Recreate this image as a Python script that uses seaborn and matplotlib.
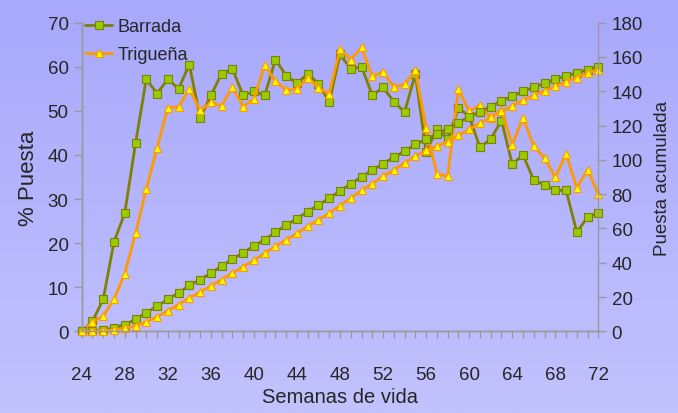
import numpy as np
import pandas as pd
import seaborn as sns
import matplotlib.pyplot as plt
from matplotlib.ticker import MultipleLocator

# semanas de vida
semanas = list(range(24, 73))

# % puesta semanal
barrada_pct = [0, 2.3, 7.3, 20.3, 26.8, 42.6, 57.2, 53.9, 57.2, 55.0,
               60.5, 48.4, 53.5, 58.4, 59.5, 53.5, 54.4, 53.5, 61.6, 58.0,
               56.2, 58.4, 56.1, 52.0, 62.8, 59.5, 60.0, 53.5, 55.3, 52.1,
               49.7, 58.4, 40.6, 45.9, 43.6, 50.6, 48.8, 41.7, 43.6, 47.8,
               37.9, 40.0, 34.3, 33.2, 32.0, 32.0, 22.5, 25.9, 26.8]
triguena_pct = [0, 2.1, 3.5, 7.3, 13.1, 22.2, 32.3, 41.6, 50.7, 50.9,
                55.0, 50.1, 51.9, 51.2, 55.4, 50.9, 52.7, 60.3, 56.7, 54.7,
                55.0, 57.5, 55.2, 53.9, 64.0, 61.6, 64.4, 57.8, 58.8, 55.4,
                56.0, 59.2, 46.0, 35.7, 35.2, 55.0, 49.9, 51.3, 48.4, 50.3,
                42.3, 48.4, 42.0, 39.3, 34.9, 40.2, 32.5, 36.7, 31.1]

# puesta acumulada (huevos/ave)
barrada_acum = [0, 0.2, 0.7, 2.1, 4.0, 7.0, 11.0, 14.7, 18.7, 22.6,
                26.8, 30.2, 34.0, 38.0, 42.2, 45.9, 49.8, 53.5, 57.8, 61.9,
                65.8, 69.9, 73.8, 77.5, 81.9, 86.0, 90.2, 94.0, 97.8, 101.5,
                105.0, 109.1, 111.9, 115.1, 118.2, 121.7, 125.1, 128.0, 131.1, 134.4,
                137.1, 139.9, 142.3, 144.6, 146.9, 149.1, 150.7, 152.5, 154.4]
triguena_acum = [0, 0.1, 0.4, 0.9, 1.8, 3.4, 5.6, 8.5, 12.1, 15.7,
                 19.5, 23.0, 26.6, 30.2, 34.1, 37.7, 41.4, 45.6, 49.6, 53.4,
                 57.2, 61.3, 65.1, 68.9, 73.4, 77.7, 82.2, 86.2, 90.4, 94.2,
                 98.2, 102.3, 105.5, 108.0, 110.5, 114.3, 117.8, 121.4, 124.8, 128.3,
                 131.3, 134.7, 137.6, 140.4, 142.8, 145.6, 147.9, 150.5, 152.6]

df = pd.DataFrame({'semana': semanas,
                   'barrada_pct': barrada_pct, 'triguena_pct': triguena_pct,
                   'barrada_acum': barrada_acum, 'triguena_acum': triguena_acum})

sns.set_theme(style='ticks')
plt.rcParams['font.family'] = ['Liberation Sans', 'DejaVu Sans']

verde, verde_m = '#808000', '#99cc00'
naranja, naranja_m = '#ff9900', '#ffff00'
gris = '#999999'

fig = plt.figure(figsize=(6.78, 4.14), dpi=100)

# fondo degradado lila
bg = fig.add_axes([0, 0, 1, 1], zorder=-10)
grad = np.linspace(0, 1, 256).reshape(-1, 1)
top = np.array([168, 168, 252]) / 255
bot = np.array([194, 194, 254]) / 255
img = top + (bot - top) * grad[:, :, None]
bg.imshow(img, aspect='auto', extent=[0, 1, 0, 1])
bg.axis('off')

ax1 = fig.add_axes([0.1205, 0.197, 0.762, 0.746])
ax1.patch.set_alpha(0)
ax2 = ax1.twinx()
ax2.patch.set_alpha(0)

estilo = dict(linewidth=2, markersize=5.5, markeredgewidth=0.8, clip_on=False)
sns.lineplot(data=df, x='semana', y='barrada_pct', ax=ax1, color=verde, marker='s',
             markerfacecolor=verde_m, markeredgecolor=verde, label='Barrada', **estilo)
sns.lineplot(data=df, x='semana', y='triguena_pct', ax=ax1, color=naranja, marker='^',
             markerfacecolor=naranja_m, markeredgecolor=naranja, label='Trigueña', **estilo)
sns.lineplot(data=df, x='semana', y='barrada_acum', ax=ax2, color=verde, marker='s',
             markerfacecolor=verde_m, markeredgecolor=verde, **estilo)
sns.lineplot(data=df, x='semana', y='triguena_acum', ax=ax2, color=naranja, marker='^',
             markerfacecolor=naranja_m, markeredgecolor=naranja, **estilo)

ax1.set_xlim(24, 72)
ax1.set_ylim(0, 70)
ax2.set_ylim(0, 180)
ax1.xaxis.set_major_locator(MultipleLocator(4))
ax1.xaxis.set_minor_locator(MultipleLocator(1))
ax1.yaxis.set_major_locator(MultipleLocator(10))
ax2.yaxis.set_major_locator(MultipleLocator(20))

for a in (ax1, ax2):
    for s in a.spines.values():
        s.set_color(gris)
        s.set_linewidth(1)
    a.spines['top'].set_visible(False)
ax1.spines['right'].set_visible(False)

ax1.tick_params(axis='x', which='both', direction='out', color=gris, length=5, width=1,
                pad=20, labelsize=13.5)
ax1.tick_params(axis='y', direction='out', color=gris, length=6, width=1, labelsize=13.5)
ax2.tick_params(axis='y', direction='out', color=gris, length=6, width=1, labelsize=13.5)

ax1.set_xlabel('Semanas de vida', fontsize=14.5, labelpad=3)
ax1.set_ylabel('% Puesta', fontsize=16, labelpad=6)
ax2.set_ylabel('Puesta acumulada', fontsize=13.5, labelpad=8)

ax1.legend(loc='upper left', bbox_to_anchor=(0.112, 0.975), bbox_transform=fig.transFigure,
           frameon=False, fontsize=13, borderpad=0, labelspacing=0.6,
           handlelength=1.5, handletextpad=0.3)
if ax2.get_legend() is not None:
    ax2.get_legend().remove()

fig.savefig('out.png', dpi=100)
